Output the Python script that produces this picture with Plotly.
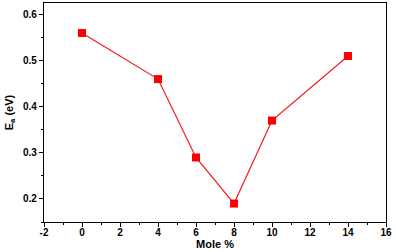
import plotly.graph_objects as go

mole = [0, 4, 6, 8, 10, 14]
ea = [0.56, 0.46, 0.29, 0.19, 0.37, 0.51]
x_ticks = [-2, 0, 2, 4, 6, 8, 10, 12, 14, 16]
x_ticktext = ["-2", "0", "2", "4", "6", "8", "10", "12", "14", "16"]

fig = go.Figure()
fig.add_trace(go.Scatter(
    x=mole, y=ea, mode="lines+markers",
    line=dict(color="#ee1c1c", width=1.2),
    marker=dict(symbol="square", size=8, color="#ff0000"),
    showlegend=False,
))

tf = dict(family="Liberation Sans, Arial", size=10, color="black", weight="bold")
fig.update_layout(
    width=396, height=252,
    margin=dict(l=44, r=10, t=3, b=30),
    paper_bgcolor="white", plot_bgcolor="white",
    font=dict(family="Liberation Sans, Arial", size=10, color="black"),
    xaxis=dict(
        range=[-2, 16], tickvals=x_ticks, ticktext=x_ticktext,
        showline=True, mirror=True, linecolor="black", linewidth=1.2,
        ticks="outside", ticklen=4, tickcolor="black", tickwidth=1,
        ticklabelstandoff=-3,
        showgrid=False, zeroline=False,
        tickfont=tf,
        minor=dict(ticks="outside", ticklen=2, dtick=1, tick0=0, tickcolor="black", showgrid=False),
        title=dict(text="Mole %", standoff=2,
                   font=dict(family="Liberation Sans, Arial", size=11, color="black", weight="bold")),
    ),
    yaxis=dict(
        range=[0.15, 0.625], dtick=0.1, tick0=0.2, tickformat=".1f",
        showline=True, mirror=True, linecolor="black", linewidth=1.2,
        ticks="outside", ticklen=4, tickcolor="black", tickwidth=1,
        showgrid=False, zeroline=False,
        tickfont=tf,
        minor=dict(ticks="outside", ticklen=2, dtick=0.05, tickcolor="black", showgrid=False),
        title=dict(text="E<sub>a</sub> (eV)", standoff=7,
                   font=dict(family="Liberation Sans, Arial", size=11, color="black", weight="bold")),
    ),
)

fig.write_html("out.html")
